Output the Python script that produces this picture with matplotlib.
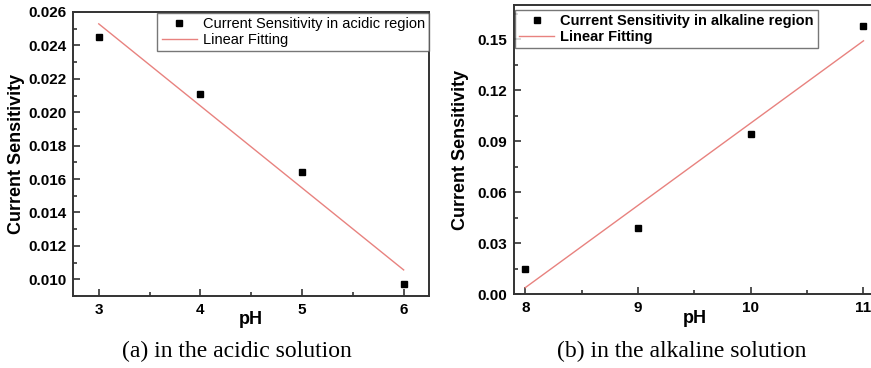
import matplotlib
matplotlib.use("Agg")
import matplotlib.pyplot as plt
import numpy as np
from matplotlib.ticker import MultipleLocator, FormatStrFormatter

# Acidic region measurements
ph_acid = [3, 4, 5, 6]
sens_acid = [0.0245, 0.0211, 0.0164, 0.0097]

# Alkaline region measurements
ph_alk = [8, 9, 10, 11]
sens_alk = [0.015, 0.039, 0.094, 0.158]

plt.rcParams['font.family'] = ['Liberation Sans', 'DejaVu Sans']

fig = plt.figure(figsize=(8.71, 3.68), dpi=100)

FIT_COLOR = '#e8827f'
SPINE_COLOR = '#333333'


def style_axes(ax):
    for s in ax.spines.values():
        s.set_color(SPINE_COLOR)
        s.set_linewidth(1.4)
    ax.tick_params(which='both', direction='in', color=SPINE_COLOR, width=1.2,
                   top=False, right=False)
    ax.tick_params(which='major', length=5, labelsize=11, pad=5)
    ax.tick_params(which='minor', length=3)
    for lbl in ax.get_xticklabels() + ax.get_yticklabels():
        lbl.set_fontweight('bold')


def panel(ax, x, y, label, legend_bold, loc, anchor, xlim, ylim, ymaj, ymin,
          yfmt, ylabelpad):
    x = np.asarray(x, float)
    y = np.asarray(y, float)
    slope, icpt = np.polyfit(x, y, 1)
    ax.plot(x, y, 's', color='black', markersize=4.6, label=label, zorder=3)
    ax.plot(x, slope * x + icpt, '-', color=FIT_COLOR, linewidth=1.0,
            label='Linear Fitting')
    ax.set_xlim(*xlim)
    ax.set_ylim(*ylim)
    ax.xaxis.set_major_locator(MultipleLocator(1))
    ax.xaxis.set_minor_locator(MultipleLocator(0.5))
    ax.yaxis.set_major_locator(MultipleLocator(ymaj))
    ax.yaxis.set_minor_locator(MultipleLocator(ymin))
    ax.yaxis.set_major_formatter(FormatStrFormatter(yfmt))
    ax.set_xlabel('pH', fontsize=13, fontweight='bold', labelpad=-4)
    ax.set_ylabel('Current Sensitivity', fontsize=13, fontweight='bold',
                  labelpad=ylabelpad)
    style_axes(ax)
    leg = ax.legend(loc=loc, bbox_to_anchor=anchor, frameon=True, fancybox=False,
                    handlelength=2.4, borderpad=0.3, labelspacing=0.1,
                    handletextpad=0.4, borderaxespad=0.0,
                    prop={'weight': 'bold' if legend_bold else 'normal',
                          'size': 10.5})
    leg.get_frame().set_edgecolor('#555555')
    leg.get_frame().set_linewidth(1.0)
    return leg


ax1 = fig.add_axes([0.0842, 0.1957, 0.4084, 0.7717])
panel(ax1, ph_acid, sens_acid, 'Current Sensitivity in acidic region', False,
      'upper right', (1.0, 0.997), (2.75, 6.25), (0.009, 0.026), 0.002, 0.001,
      '%.3f', 2)

ax2 = fig.add_axes([0.5901, 0.2003, 0.4142, 0.7853])
panel(ax2, ph_alk, sens_alk, 'Current Sensitivity in alkaline region', True,
      'upper left', (0.003, 0.984), (7.9, 11.1), (0.0, 0.17), 0.03, 0.015,
      '%.2f', 6)

fig.text(0.272, 0.044, '(a) in the acidic solution', ha='center', va='center',
         fontsize=17, family='Liberation Serif')
fig.text(0.783, 0.044, '(b) in the alkaline solution', ha='center', va='center',
         fontsize=17, family='Liberation Serif')

fig.savefig('out.png', dpi=100)
